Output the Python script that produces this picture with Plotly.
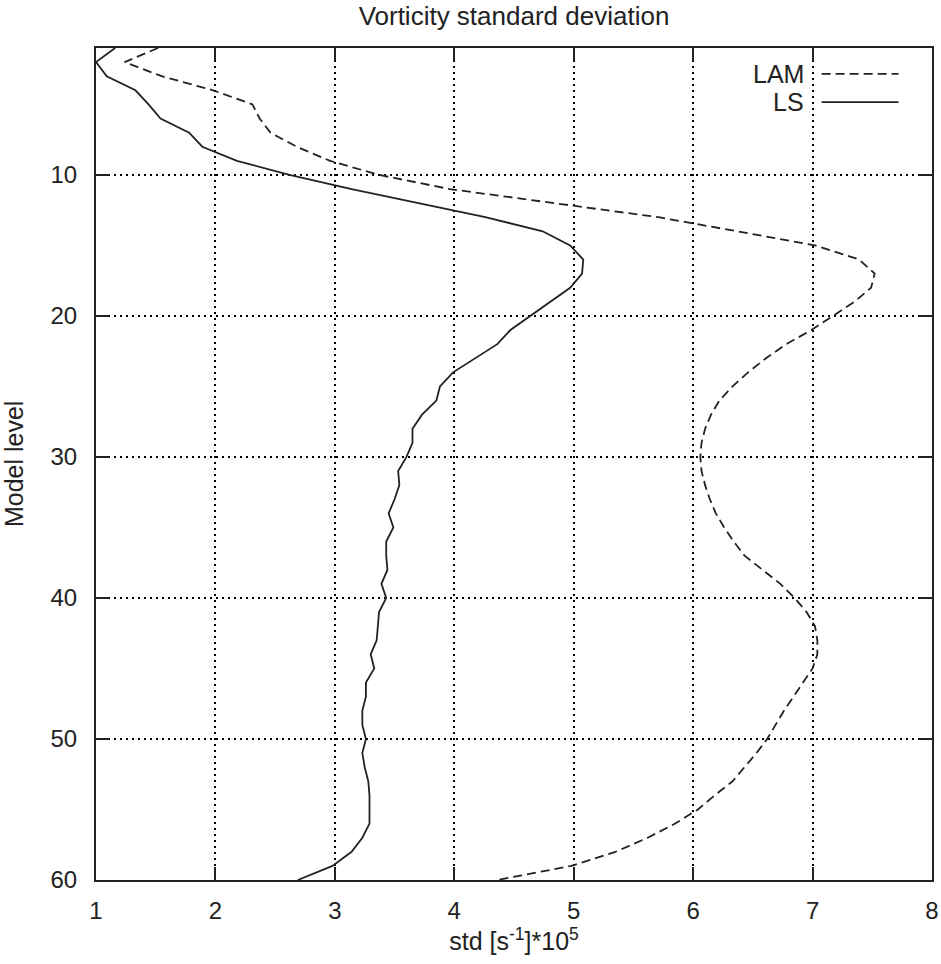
import plotly.graph_objects as go

# model levels and std values (units s^-1 * 1e5)
levels = list(range(1, 61))

ls_std = [1.16, 1.00, 1.09, 1.33, 1.44, 1.54, 1.78, 1.89, 2.18, 2.62,
          3.14, 3.69, 4.26, 4.74, 4.97, 5.08, 5.07, 4.97, 4.80, 4.63,
          4.47, 4.36, 4.17, 3.99, 3.88, 3.85, 3.73, 3.65, 3.65, 3.60,
          3.53, 3.54, 3.50, 3.45, 3.49, 3.43, 3.43, 3.44, 3.39, 3.43,
          3.37, 3.36, 3.35, 3.30, 3.33, 3.26, 3.26, 3.23, 3.23, 3.26,
          3.23, 3.25, 3.28, 3.29, 3.29, 3.29, 3.23, 3.14, 2.98, 2.69]

lam_std = [1.52, 1.24, 1.55, 1.98, 2.31, 2.37, 2.46, 2.68, 2.96, 3.37,
           3.96, 4.85, 5.71, 6.37, 7.02, 7.39, 7.52, 7.49, 7.35, 7.17,
           6.99, 6.78, 6.61, 6.46, 6.33, 6.22, 6.15, 6.10, 6.07, 6.06,
           6.07, 6.10, 6.14, 6.19, 6.26, 6.34, 6.43, 6.58, 6.73, 6.85,
           6.95, 7.02, 7.04, 7.04, 7.00, 6.92, 6.84, 6.76, 6.69, 6.62,
           6.53, 6.43, 6.33, 6.18, 6.04, 5.85, 5.62, 5.35, 4.98, 4.36]

x_ticks = [1, 2, 3, 4, 5, 6, 7, 8]
y_ticks = [10, 20, 30, 40, 50, 60]

FONT = "Liberation Sans, Arial, sans-serif"
INK = "#222222"
DASH = "9px,5px"

fig = go.Figure()
fig.add_trace(go.Scatter(x=lam_std, y=levels, mode="lines", name="LAM",
                         line=dict(color=INK, width=1.8, dash=DASH),
                         showlegend=False))
fig.add_trace(go.Scatter(x=ls_std, y=levels, mode="lines", name="LS",
                         line=dict(color=INK, width=1.8),
                         showlegend=False))

# gnuplot-like key: label on the left, sample line on the right
key = [("LAM", DASH, 0.969), ("LS", "solid", 0.935)]
for label, dash, ky in key:
    fig.add_annotation(text=label, xref="paper", yref="paper", x=0.849, y=ky,
                       xanchor="right", yanchor="middle", showarrow=False,
                       font=dict(size=25, color=INK, family=FONT))
    fig.add_shape(type="line", xref="paper", yref="paper",
                  x0=0.868, x1=0.960, y0=ky, y1=ky,
                  line=dict(color=INK, width=1.8, dash=dash))

# y axis title, placed like gnuplot's rotated ylabel
fig.add_annotation(text="Model level", xref="paper", yref="paper",
                   x=-0.098, y=0.5, xanchor="center", yanchor="middle",
                   textangle=-90, showarrow=False,
                   font=dict(size=25, color=INK, family=FONT))

axis_common = dict(showline=True, linecolor=INK, linewidth=2, mirror="allticks",
                   ticks="inside", ticklen=13, tickwidth=1.8, tickcolor=INK,
                   showgrid=True, gridcolor="black", gridwidth=1.8, griddash="2px,4px",
                   zeroline=False, automargin=False,
                   tickfont=dict(size=24, color=INK, family=FONT))

fig.update_xaxes(range=[1, 8], tickvals=x_ticks, ticklabelstandoff=8,
                 title=dict(text="std [s<sup>-1</sup>]*10<sup>5</sup>",
                            font=dict(size=25, color=INK, family=FONT), standoff=8),
                 **axis_common)
fig.update_yaxes(range=[60, 1], tickvals=y_ticks, ticklabelstandoff=12,
                 **axis_common)

fig.update_layout(
    width=941, height=964,
    margin=dict(l=96, r=9, t=48, b=84),
    paper_bgcolor="white", plot_bgcolor="white",
    title=dict(text="Vorticity standard deviation", xref="paper", x=0.5,
               xanchor="center", y=0.984, yanchor="middle",
               font=dict(size=26, color=INK, family=FONT)),
)

fig.write_html("out.html", config={"displayModeBar": False},
               post_script="document.body.style.margin='0';")
